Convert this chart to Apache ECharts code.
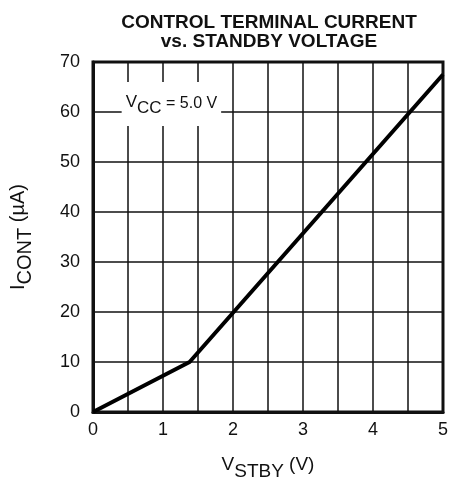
<!DOCTYPE html>
<html>
<head>
<meta charset="utf-8">
<script src="https://cdn.jsdelivr.net/npm/echarts@6/dist/echarts.min.js"></script>
<style>
  html, body { margin: 0; padding: 0; background: #fff; }
  #chart { width: 451px; height: 486px; }
</style>
</head>
<body>
<div id="chart"></div>
<script>
// 曲線資料 (V_STBY, I_CONT)
var standbyVolts = [0, 1.38, 5];
var controlCurrent = [0, 10, 67.5];
// 標註位置 (資料座標)
var noteAt = [1.12, 61.6];

var FONT = 'Liberation Sans, Arial, sans-serif';
var INK = '#111';

// 下標文字樣式
function subRich(size, lift) {
    return {
        v: { fontFamily: FONT, fontSize: size, color: INK, verticalAlign: 'bottom', padding: [0, 0, lift, 0] },
        s: { fontFamily: FONT, fontSize: size, color: INK, verticalAlign: 'bottom' },
        n: { fontFamily: FONT, fontSize: size, color: INK, verticalAlign: 'bottom', padding: [0, 0, lift, 0] }
    };
}

var chart = echarts.init(document.getElementById('chart'));

var option = {
    animation: false,
    title: {
        text: 'CONTROL TERMINAL CURRENT\nvs. STANDBY VOLTAGE',
        left: 264,
        top: 8,
        textAlign: 'center',
        textStyle: { fontFamily: FONT, fontSize: 19, fontWeight: 'bold', color: INK, lineHeight: 19 }
    },
    grid: { left: 90, right: 6, top: 62, bottom: 73, show: true, borderColor: INK, borderWidth: 3 },
    xAxis: {
        type: 'value', min: 0, max: 5, interval: 1,
        axisLine: { show: true, lineStyle: { color: INK, width: 3 } },
        axisTick: { show: false },
        minorTick: { show: false, splitNumber: 2 },
        splitLine: { show: true, lineStyle: { color: INK, width: 1.5 } },
        minorSplitLine: { show: true, lineStyle: { color: INK, width: 1.5 } },
        axisLabel: { fontFamily: FONT, fontSize: 18, color: INK, margin: 9 },
        name: '{v|V}{s|STBY}{n| (V)}',
        nameLocation: 'middle',
        nameGap: 43,
        nameTextStyle: { fontFamily: FONT, fontSize: 19, color: INK, rich: subRich(19, 7) }
    },
    yAxis: {
        type: 'value', min: 0, max: 70, interval: 10,
        axisLine: { show: true, lineStyle: { color: INK, width: 3 } },
        axisTick: { show: false },
        splitLine: { show: true, lineStyle: { color: INK, width: 1.5 } },
        axisLabel: { fontFamily: FONT, fontSize: 18, color: INK, margin: 13 },
        name: '{v|I}{s|CONT}{n| (µA)}',
        nameLocation: 'middle',
        nameGap: 58,
        nameTextStyle: { fontFamily: FONT, fontSize: 20, color: INK, rich: subRich(20, 7) }
    },
    series: [
        {
            type: 'line',
            data: standbyVolts.map(function (v, i) { return [v, controlCurrent[i]]; }),
            symbol: 'none',
            lineStyle: { color: '#000', width: 4 },
            z: 5
        }
    ]
};

chart.setOption(option);

// V_CC 標註：白底蓋住格線，位置由座標軸換算
var notePx = chart.convertToPixel({ gridIndex: 0 }, noteAt);
chart.setOption({
    graphic: [{
        type: 'text',
        z: 100,
        x: notePx[0],
        y: notePx[1],
        style: {
            text: '{v|V}{s|CC}{n| = 5.0 V}',
            align: 'center',
            verticalAlign: 'middle',
            backgroundColor: '#fff',
            padding: [12, 4, 9, 4],
            rich: {
                v: { fontFamily: FONT, fontSize: 17, fill: INK, color: INK, verticalAlign: 'bottom', padding: [0, 0, 6, 0] },
                s: { fontFamily: FONT, fontSize: 17, fill: INK, color: INK, verticalAlign: 'bottom' },
                n: { fontFamily: FONT, fontSize: 16, fill: INK, color: INK, verticalAlign: 'bottom', padding: [0, 0, 5, 0] }
            }
        }
    }]
});
</script>
</body>
</html>
